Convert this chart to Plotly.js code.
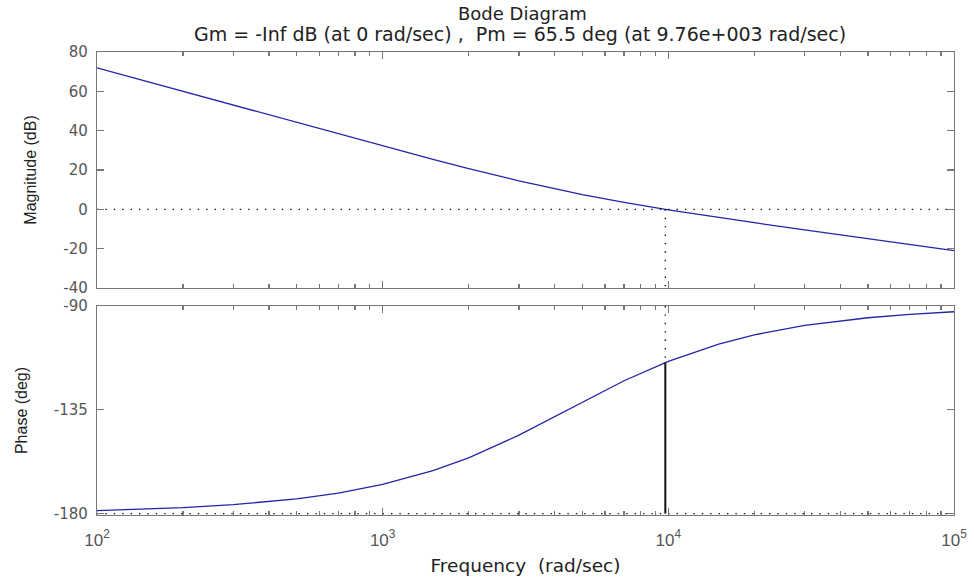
<!DOCTYPE html>
<html>
<head>
<meta charset="utf-8">
<script src="https://cdn.plot.ly/plotly-3.0.1.min.js"></script>
<style>html,body{margin:0;padding:0;background:#fff;}#chart{width:974px;height:580px;}</style>
</head>
<body>
<div id="chart"></div>
<script>
// Frequency samples (rad/sec)
var freq = [100, 150, 200, 300, 500, 700, 1000, 1500, 2000, 3000, 5000, 7000, 10000, 15000, 20000, 30000, 50000, 70000, 100000];
// Magnitude (dB)
var magnitude = [71.9, 64.9, 59.9, 52.9, 44.0, 38.2, 32.1, 25.4, 20.7, 14.5, 7.5, 3.5, -0.25, -4.2, -6.8, -10.5, -15.0, -17.9, -21.0];
// Phase (deg)
var phase = [-178.7, -178.1, -177.4, -176.1, -173.6, -171.1, -167.3, -161.4, -155.8, -146.0, -131.7, -122.4, -114.0, -106.5, -102.5, -98.4, -95.1, -93.6, -92.5];
// Margin markers
var crossFreq = [9760];
var crossPhase = [-114.5];
var magTicks = [-40, -20, 0, 20, 40, 60, 80];
var phaseTicks = [-180, -135, -90];
var decadeTicks = [100, 1000, 10000, 100000];
var decadeLabels = ['10<sup>2</sup>', '10<sup>3</sup>', '10<sup>4</sup>', '10<sup>5</sup>'];
var titleLines = ['Bode Diagram', 'Gm = -Inf dB (at 0 rad/sec) ,  Pm = 65.5 deg (at 9.76e+003 rad/sec)'];

var minorTicks = [];
[100, 1000, 10000].forEach(function (d) { for (var k = 2; k <= 9; k++) minorTicks.push(d * k); });

var blue = '#2424a8';
var dotted = {color: '#111', width: 1.4, dash: '1.4px,7px'};
var wide = 'DejaVu Sans, Verdana, sans-serif';
var narrow = 'Liberation Sans, Arial, sans-serif';

var traces = [
  {x: freq, y: magnitude, xaxis: 'x2', yaxis: 'y2', mode: 'lines', line: {color: blue, width: 1.3}},
  {x: [freq[0], freq[freq.length - 1]], y: [0, 0], xaxis: 'x2', yaxis: 'y2', mode: 'lines', line: dotted},
  {x: [crossFreq[0], crossFreq[0]], y: [0, -40], xaxis: 'x2', yaxis: 'y2', mode: 'lines', line: dotted},
  {x: freq, y: phase, xaxis: 'x', yaxis: 'y', mode: 'lines', line: {color: blue, width: 1.3}},
  {x: [freq[0], freq[freq.length - 1]], y: [-180, -180], xaxis: 'x', yaxis: 'y', mode: 'lines', line: dotted},
  {x: [crossFreq[0], crossFreq[0]], y: [-90, crossPhase[0]], xaxis: 'x', yaxis: 'y', mode: 'lines', line: dotted},
  {x: [crossFreq[0], crossFreq[0]], y: [crossPhase[0], -180], xaxis: 'x', yaxis: 'y', mode: 'lines', line: {color: '#111', width: 2}}
];

var axisCommon = {
  showline: true, linecolor: '#777', linewidth: 1.2, mirror: 'ticks',
  ticks: 'inside', ticklen: 7, tickcolor: '#777', tickwidth: 1.2,
  showgrid: false, zeroline: false,
  tickfont: {family: wide, size: 15, color: '#555'}
};
function ax(extra) { return Object.assign({}, axisCommon, extra); }

var layout = {
  width: 974, height: 580,
  margin: {l: 97, r: 20, t: 52, b: 65},
  paper_bgcolor: '#fff', plot_bgcolor: '#fff',
  showlegend: false,
  font: {family: narrow, size: 14, color: '#222'},
  annotations: [
    {text: titleLines[0], xref: 'paper', yref: 'paper', x: 0.496, y: 1.084, xanchor: 'center', yanchor: 'middle',
     showarrow: false, font: {family: wide, size: 18, color: '#222'}},
    {text: titleLines[1], xref: 'paper', yref: 'paper', x: 0.494, y: 1.038, xanchor: 'center', yanchor: 'middle',
     showarrow: false, font: {family: wide, size: 19, color: '#222'}}
  ],
  xaxis: ax({
    type: 'log', range: [2, 5], anchor: 'y',
    tickvals: decadeTicks, ticktext: decadeLabels,
    ticklabelstandoff: 9,
    tickfont: {family: narrow, size: 17, color: '#555'},
    minor: {tickvals: minorTicks, ticks: 'inside', ticklen: 4, tickcolor: '#777'},
    title: {text: 'Frequency  (rad/sec)', standoff: 10, font: {family: wide, size: 18.5, color: '#222'}}
  }),
  xaxis2: ax({
    type: 'log', range: [2, 5], anchor: 'y2', matches: 'x',
    tickvals: decadeTicks, showticklabels: false,
    minor: {tickvals: minorTicks, ticks: 'inside', ticklen: 4, tickcolor: '#777'}
  }),
  yaxis: ax({
    domain: [0, 0.4514], range: [-180.6, -90], anchor: 'x',
    tickvals: phaseTicks, ticktext: phaseTicks.map(String),
    ticklabelstandoff: 5,
    title: {text: 'Phase (deg)', standoff: 22, font: {family: narrow, size: 16, color: '#222'}}
  }),
  yaxis2: ax({
    domain: [0.4903, 1], range: [-40, 80], anchor: 'x2',
    tickvals: magTicks, ticktext: magTicks.map(String),
    ticklabelstandoff: 5,
    title: {text: 'Magnitude (dB)', standoff: 22, font: {family: narrow, size: 16, color: '#222'}}
  })
};

Plotly.newPlot('chart', traces, layout, {displayModeBar: false, staticPlot: true});
</script>
</body>
</html>
